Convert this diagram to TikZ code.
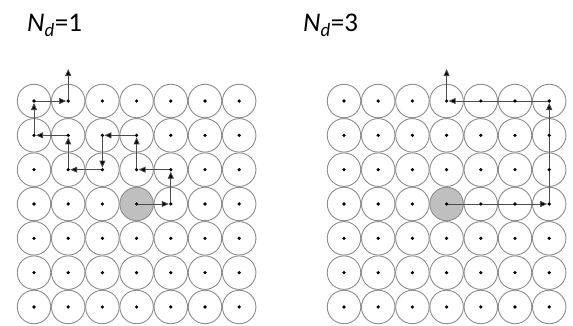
\documentclass[tikz,border=0pt]{standalone}
\usepackage{fontspec}
\setmainfont{Carlito}
\usetikzlibrary{arrows.meta}

\begin{document}
\begin{tikzpicture}[
    x=1pt, y=-1pt,
    cell/.style={circle, draw=gray!90, line width=0.9pt, minimum size=33.5pt, inner sep=0pt},
    hop/.style={draw=black!70, line width=0.8pt, -{Triangle[length=7pt,width=6pt,fill=black]}, shorten >=2pt},
    title/.style={anchor=base west, inner sep=0pt, font=\fontsize{27}{30}\selectfont}
]
\useasboundingbox (0,0) rectangle (573,325);

% Titles
\node[title] (tL) at (27,31.7) {\textit{N}\textsubscript{\textit{d}}=1};
\node[title] (tR) at (303,31.7) {\textit{N}\textsubscript{\textit{d}}=3};

% Grids of cells (L = left, R = right)
\foreach \g/\ox in {L/0, R/310} {
  \foreach \c in {1,...,7} {
    \foreach \r in {1,...,7} {
      \pgfmathsetmacro\shade{(\c==4 && \r==4) ? 50 : 0}
      \node[cell, fill=gray!\shade] (\g-\c-\r) at (\ox+34+34.2*\c-34.2, 101+34.33*\r-34.33) {};
    }
  }
}

% Exit points
\coordinate (Lout) at ([yshift=32pt]L-2-1.center);
\coordinate (Rout) at ([yshift=32pt]R-4-1.center);

% Nd=1 walk
\foreach \a/\b in {L-4-4/L-5-4, L-5-4/L-5-3, L-5-3/L-4-3, L-4-3/L-4-2, L-4-2/L-3-2,
                   L-3-2/L-3-3, L-3-3/L-2-3, L-2-3/L-2-2, L-2-2/L-1-2, L-1-2/L-1-1,
                   L-1-1/L-2-1}
  \draw[hop] (\a.center) -- (\b.center);
\draw[hop, shorten >=0pt] (L-2-1.center) -- (Lout);

% Nd=3 walk
\foreach \a/\b in {R-4-4/R-7-4, R-7-4/R-7-1, R-7-1/R-4-1}
  \draw[hop] (\a.center) -- (\b.center);
\draw[hop, shorten >=0pt] (R-4-1.center) -- (Rout);

% Dots
\foreach \g in {L, R} {
  \foreach \c in {1,...,7} {
    \foreach \r in {1,...,7} {
      \fill (\g-\c-\r) circle (1.8pt);
    }
  }
}

\end{tikzpicture}
\end{document}
